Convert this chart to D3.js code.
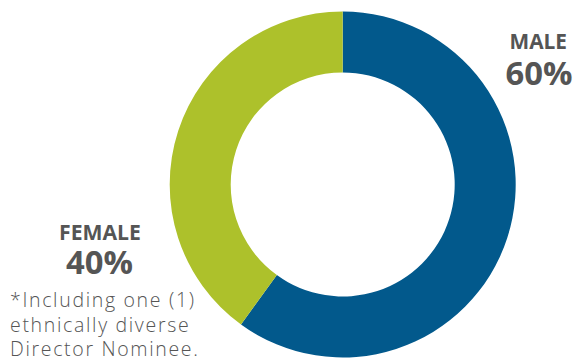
<!DOCTYPE html>
<html><head><meta charset="utf-8">
<script src="https://cdn.jsdelivr.net/npm/d3@7"></script>
<style>body{margin:0;background:#fff}svg{display:block}</style>
</head><body>
<svg id="c" width="578" height="360"></svg>
<script>
const categories = ["MALE", "FEMALE"];
const values = [60, 40];
const colors = ["#02598c", "#adc12b"];
const footnote = ["*Including one (1)", "ethnically diverse", "Director Nominee."];

const svg = d3.select("#c");
const cx = 342.7, cy = 184.5, rOuter = 173, rInner = 112;
const pie = d3.pie().sort(null).value(d => d)(values);
const arc = d3.arc().innerRadius(rInner).outerRadius(rOuter);
const g = svg.append("g").attr("transform", `translate(${cx},${cy})`);
g.selectAll("path").data(pie).join("path").attr("d", arc).attr("fill", (d, i) => colors[i]);

const font = "'Open Sans', sans-serif";
const gray = "#555555";

function place(sel, txt, x0, x1, y, weight, baseSize) {
  const t = sel.append("text").attr("x", x0).attr("y", y)
    .attr("font-family", font).attr("font-weight", weight)
    .attr("font-size", baseSize).attr("fill", gray).text(txt);
  const w = t.node().getComputedTextLength();
  t.attr("font-size", baseSize * (x1 - x0) / w);
  return t;
}
place(svg, categories[0], 509.5, 567, 49, 700, 19);
place(svg, values[0] + "%", 505.5, 572.5, 85.3, 700, 35);
place(svg, categories[1], 59, 141, 240, 700, 19);
place(svg, values[1] + "%", 66, 133, 274, 700, 37);

// footnote: fixed size, letter-spacing fitted to the first line's width
const fs = 19.5;
const fy = [307, 332, 356];
const ft = svg.append("g").selectAll("text").data(footnote).join("text")
  .attr("x", 10).attr("y", (d, i) => fy[i])
  .attr("font-family", font).attr("font-weight", 300)
  .attr("font-size", fs).attr("fill", gray).text(d => d);
const w0 = ft.nodes()[0].getComputedTextLength();
const ls = (184 - w0) / (footnote[0].length - 1);
ft.attr("letter-spacing", ls);
</script>
</body></html>
